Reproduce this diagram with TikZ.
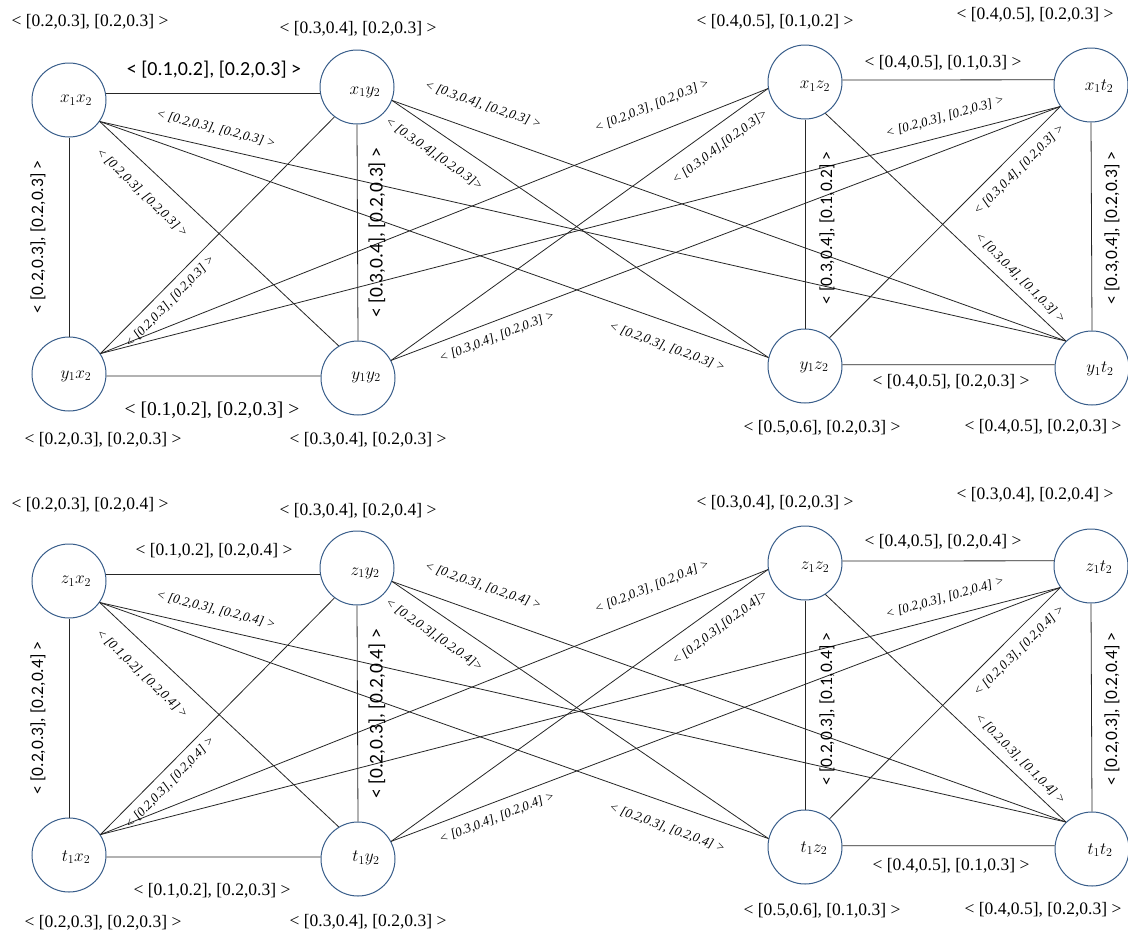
\documentclass[tikz,border=0pt]{standalone}
\usepackage{fontspec}
\setmainfont{Liberation Serif}
\newfontfamily\carlito{Carlito}
\definecolor{nodeblue}{RGB}{56,93,138}
\begin{document}
\begin{tikzpicture}[x=1pt,y=-1pt,
  vert/.style={circle,draw=nodeblue,line width=1pt,minimum size=74pt,inner sep=0pt},
  nm/.style={inner sep=0pt,font=\fontsize{17}{20}\selectfont},
  val/.style={inner sep=0pt,font=\fontsize{17.5}{20}\selectfont},
  hlab/.style={inner sep=0pt,font=\fontsize{17.5}{20}\selectfont},
  hlabbig/.style={inner sep=0pt,font=\fontsize{19.5}{22}\selectfont},
  hlabsans/.style={inner sep=0pt,font=\carlito\fontsize{20}{22}\selectfont},
  vlab/.style={inner sep=0pt,rotate=90,font=\carlito\fontsize{17.5}{20}\selectfont},
  vlabbig/.style={inner sep=0pt,rotate=90,font=\carlito\fontsize{19.5}{22}\selectfont},
  dlab/.style={inner sep=0pt,font=\itshape\fontsize{13}{15}\selectfont},
  link/.style={line width=0.8pt,draw=black!85}]
\useasboundingbox[fill=white] (0,0) rectangle (1128,938);

% ================= TOP BLOCK =================
\node[vert] (xx) at (69,100) {};
\node[vert] (xy) at (357,87) {};
\node[vert] (xz) at (805,82) {};
\node[vert] (xt) at (1091,85) {};
\node[vert] (yx) at (69,374) {};
\node[vert] (yy) at (358,378) {};
\node[vert] (yz) at (805,366) {};
\node[vert] (yt) at (1092,368) {};
\node[nm] (xxn) at (76,100) {$x_1x_2$};
\node[nm] (xyn) at (365,92) {$x_1y_2$};
\node[nm] (xzn) at (815,86) {$x_1z_2$};
\node[nm] (xtn) at (1099,86) {$x_1t_2$};
\node[nm] (yxn) at (76,376) {$y_1x_2$};
\node[nm] (yyn) at (366,377) {$y_1y_2$};
\node[nm] (yzn) at (814,367) {$y_1z_2$};
\node[nm] (ytn) at (1100,369) {$y_1t_2$};

\node[val] (vxx) at (90,22) {< [0.2,0.3], [0.2,0.3] >};
\node[val] (vxy) at (358,29) {< [0.3,0.4], [0.2,0.3] >};
\node[val] (vxz) at (775,22) {< [0.4,0.5], [0.1,0.2] >};
\node[val] (vxt) at (1035,15) {< [0.4,0.5], [0.2,0.3] >};
\node[val] (vyx) at (103,440) {< [0.2,0.3], [0.2,0.3] >};
\node[val] (vyy) at (368,440) {< [0.3,0.4], [0.2,0.3] >};
\node[val] (vyz) at (822,428) {< [0.5,0.6], [0.2,0.3] >};
\node[val] (vyt) at (1043,427) {< [0.4,0.5], [0.2,0.3] >};

\draw[link] (xx.10) -- (xy.190);
\draw[link] (yx.-3) -- (yy.177);
\draw[link] (xz.3) -- (xt.172);
\draw[link] (yz.2) -- (yt.175);
\draw[link] (xx.south) -- (yx.north);
\draw[link] (xy.south) -- (yy.north);
\draw[link] (xz.south) -- (yz.north);
\draw[link] (xt.south) -- (yt.north);
\draw[link] (xx.-35) -- (yy.121);
\draw[link] (xx.-35) -- (yz.167);
\draw[link] (xx.-35) -- (yt.134);
\draw[link] (xy.-21) -- (yz.167);
\draw[link] (xy.-21) -- (yt.134);
\draw[link] (xy.233) -- (yx.33);
\draw[link] (yx.33) -- (xz.190);
\draw[link] (yx.33) -- (xt.215);
\draw[link] (yy.28) -- (xz.190);
\draw[link] (yy.28) -- (xt.215);
\draw[link] (yz.49) -- (xt.215);
\draw[link] (xz.-57) -- (yt.134);

\node[hlabsans] (lxxxy) at (214,70) {< [0.1,0.2], [0.2,0.3] >};
\node[hlabbig] (lyxyy) at (212,410) {< [0.1,0.2], [0.2,0.3] >};
\node[hlab] (lxzxt) at (943,63) {< [0.4,0.5], [0.1,0.3] >};
\node[hlab] (lyzyt) at (951,382) {< [0.4,0.5], [0.2,0.3] >};
\node[vlab] (lxxyx) at (38,237) {< [0.2,0.3], [0.2,0.3] >};
\node[vlabbig] (lxyyy) at (377,233) {< [0.3,0.4], [0.2,0.3] >};
\node[vlab] (lxzyz) at (827,228) {< [0.3,0.4], [0.1,0.2] >};
\node[vlab] (lxtyt) at (1112,228) {< [0.3,0.4], [0.2,0.3] >};

\node[dlab,rotate=-14] (lxxyt) at (216,129) {< [0.2,0.3], [0.2,0.3] >};
\node[dlab,rotate=-44] (lxxyy) at (142,193) {< [0.2,0.3], [0.2,0.3] >};
\node[dlab,rotate=46] (lxyyx) at (170,302) {< [0.2,0.3], [0.2,0.3] >};
\node[dlab,rotate=-19] (lxyyt) at (483,105) {< [0.3,0.4], [0.2,0.3] >};
\node[dlab,rotate=-35] (lxyyz) at (434,154) {< [0.3,0.4],[0.2,0.3]>};
\node[dlab,rotate=22] (lyxxz) at (652,106) {< [0.2,0.3], [0.2,0.3] >};
\node[dlab,rotate=37] (lyyxz) at (720,147) {< [0.3,0.4],[0.2,0.3]>};
\node[dlab,rotate=21] (lyyxt) at (497,337) {< [0.3,0.4], [0.2,0.3] >};
\node[dlab,rotate=-20] (lxxyz) at (667,347) {< [0.2,0.3], [0.2,0.3] >};
\node[dlab,rotate=16] (lyxxt) at (945,117) {< [0.2,0.3], [0.2,0.3] >};
\node[dlab,rotate=45] (lyzxt) at (1019,170) {< [0.3,0.4], [0.2,0.3] >};
\node[dlab,rotate=-45] (lxzyt) at (1020,278) {< [0.3,0.4], [0.1,0.3] >};

% ================= BOTTOM BLOCK =================
\begin{scope}[shift={(0,481)}]
\node[vert] (zx) at (69,100) {};
\node[vert] (zy) at (357,87) {};
\node[vert] (zz) at (805,82) {};
\node[vert] (zt) at (1091,85) {};
\node[vert] (tx) at (69,374) {};
\node[vert] (ty) at (358,378) {};
\node[vert] (tz) at (805,366) {};
\node[vert] (tt) at (1092,368) {};
\node[nm] (zxn) at (76,100) {$z_1x_2$};
\node[nm] (zyn) at (365,92) {$z_1y_2$};
\node[nm] (zzn) at (815,86) {$z_1z_2$};
\node[nm] (ztn) at (1099,86) {$z_1t_2$};
\node[nm] (txn) at (76,376) {$t_1x_2$};
\node[nm] (tyn) at (366,377) {$t_1y_2$};
\node[nm] (tzn) at (814,367) {$t_1z_2$};
\node[nm] (ttn) at (1100,369) {$t_1t_2$};

\node[val] (vzx) at (90,24) {< [0.2,0.3], [0.2,0.4] >};
\node[val] (vzy) at (358,30) {< [0.3,0.4], [0.2,0.4] >};
\node[val] (vzz) at (775,22) {< [0.3,0.4], [0.2,0.3] >};
\node[val] (vzt) at (1035,14) {< [0.3,0.4], [0.2,0.4] >};
\node[val] (vtx) at (103,442) {< [0.2,0.3], [0.2,0.3] >};
\node[val] (vty) at (368,441) {< [0.3,0.4], [0.2,0.3] >};
\node[val] (vtz) at (822,430) {< [0.5,0.6], [0.1,0.3] >};
\node[val] (vtt) at (1043,429) {< [0.4,0.5], [0.2,0.3] >};

\draw[link] (zx.10) -- (zy.190);
\draw[link] (tx.-3) -- (ty.177);
\draw[link] (zz.3) -- (zt.172);
\draw[link] (tz.2) -- (tt.175);
\draw[link] (zx.south) -- (tx.north);
\draw[link] (zy.south) -- (ty.north);
\draw[link] (zz.south) -- (tz.north);
\draw[link] (zt.south) -- (tt.north);
\draw[link] (zx.-35) -- (ty.121);
\draw[link] (zx.-35) -- (tz.167);
\draw[link] (zx.-35) -- (tt.134);
\draw[link] (zy.-21) -- (tz.167);
\draw[link] (zy.-21) -- (tt.134);
\draw[link] (zy.233) -- (tx.33);
\draw[link] (tx.33) -- (zz.190);
\draw[link] (tx.33) -- (zt.215);
\draw[link] (ty.28) -- (zz.190);
\draw[link] (ty.28) -- (zt.215);
\draw[link] (tz.49) -- (zt.215);
\draw[link] (zz.-57) -- (tt.134);

\node[hlab] (lzxzy) at (214,70) {< [0.1,0.2], [0.2,0.4] >};
\node[hlab] (ltxty) at (212,410) {< [0.1,0.2], [0.2,0.3] >};
\node[hlab] (lzzzt) at (943,61) {< [0.4,0.5], [0.2,0.4] >};
\node[hlab] (ltztt) at (951,385) {< [0.4,0.5], [0.1,0.3] >};
\node[vlab] (lzxtx) at (38,237) {< [0.2,0.3], [0.2,0.4] >};
\node[vlabbig] (lzyty) at (377,233) {< [0.2,0.3], [0.2,0.4] >};
\node[vlab] (lzztz) at (827,228) {< [0.2,0.3], [0.1,0.4] >};
\node[vlab] (lzttt) at (1112,228) {< [0.2,0.3], [0.2,0.4] >};

\node[dlab,rotate=-14] (lzxtt) at (216,129) {< [0.2,0.3], [0.2,0.4] >};
\node[dlab,rotate=-44] (lzxty) at (142,193) {< [0.1,0.2], [0.2,0.4] >};
\node[dlab,rotate=46] (lzytx) at (170,302) {< [0.2,0.3], [0.2,0.4] >};
\node[dlab,rotate=-19] (lzytt) at (483,105) {< [0.2,0.3], [0.2,0.4] >};
\node[dlab,rotate=-35] (lzytz) at (434,154) {< [0.2,0.3],[0.2,0.4]>};
\node[dlab,rotate=22] (ltxzz) at (652,106) {< [0.2,0.3], [0.2,0.4] >};
\node[dlab,rotate=37] (ltyzz) at (720,147) {< [0.2,0.3],[0.2,0.4]>};
\node[dlab,rotate=21] (ltyzt) at (497,337) {< [0.3,0.4], [0.2,0.4] >};
\node[dlab,rotate=-20] (lzxtz) at (667,347) {< [0.2,0.3], [0.2,0.4] >};
\node[dlab,rotate=16] (ltxzt) at (945,117) {< [0.2,0.3], [0.2,0.4] >};
\node[dlab,rotate=45] (ltzzt) at (1019,170) {< [0.2,0.3], [0.2,0.4] >};
\node[dlab,rotate=-45] (lzztt) at (1020,278) {< [0.2,0.3], [0.1,0.4] >};
\end{scope}
\end{tikzpicture}
\end{document}
